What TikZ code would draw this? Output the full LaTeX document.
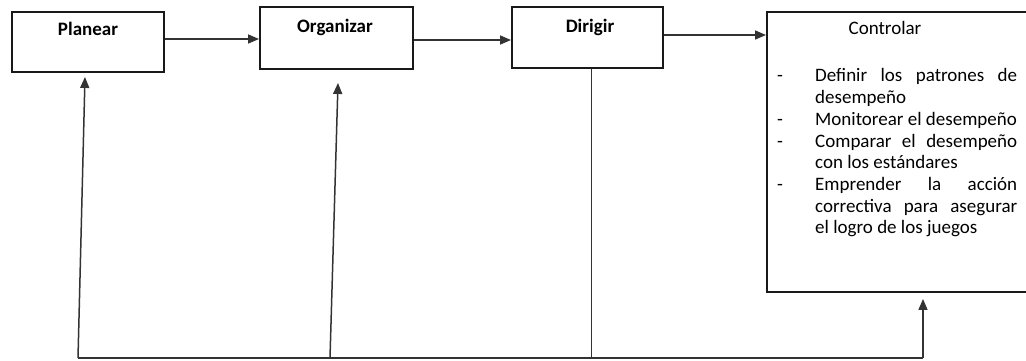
\documentclass[tikz,border=0pt]{standalone}
\usepackage{fontspec}
\setmainfont{Carlito}
\usetikzlibrary{arrows.meta}
\newcommand\dashitem{\par\hangindent=38pt\hangafter=1\noindent\makebox[38pt][l]{-}}
\begin{document}
\begin{tikzpicture}[x=1pt,y=-1pt,
  box/.style={draw=black!90, line width=1.9pt, rectangle, inner sep=0pt},
  ttl/.style={anchor=base, font=\fontsize{19}{22}\selectfont\bfseries, inner sep=0pt},
  conn/.style={draw=black!80, line width=1.5pt},
  arr/.style={conn, -{Triangle[length=11pt,width=9pt]}}]
\useasboundingbox (0,0) rectangle (1026,360);
% boxes
\node[box, minimum width=152pt, minimum height=60pt] (plan) at (88,42) {};
\node[box, minimum width=153pt, minimum height=62pt] (org) at (336.5,38) {};
\node[box, minimum width=151pt, minimum height=61pt] (dir) at (587.5,37.5) {};
\node[box, minimum width=273pt, minimum height=280pt] (ctl) at (903.5,152) {};
% titles
\node[ttl] (tplan) at (88,35) {Planear};
\node[ttl] (torg) at (335,32) {Organizar};
\node[ttl] (tdir) at (590,32) {Dirigir};
\node[ttl, font=\fontsize{19}{22}\selectfont] (tctl) at (885,34) {Controlar};
% list
\node[anchor=north west, inner sep=0pt, text width=240pt, align=justify,
      font=\fontsize{19}{21.7}\selectfont] (lst) at (777,60) {%
  \hyphenpenalty=10000\exhyphenpenalty=10000
  \dashitem Definir~los~patrones~de\linebreak desempeño
  \dashitem Monitorear~el~desempeño
  \dashitem Comparar~el~desempeño\linebreak con~los~estándares
  \dashitem Emprender~la~acción\linebreak correctiva~para~asegurar\linebreak el~logro~de~los~juegos\par};
% top arrows
\draw[arr] ([yshift=3pt]plan.east) coordinate (a1) -- (org.west |- a1);
\draw[arr] ([yshift=-2pt]org.east) coordinate (a2) -- (dir.west |- a2);
\draw[arr] ([yshift=2.5pt]dir.east) coordinate (a3) -- (ctl.west |- a3);
% feedback
\coordinate (b1) at (78,358);
\coordinate (b2) at (330,358);
\coordinate (b4) at (923,358);
\coordinate (b3) at ([xshift=4pt]dir.south |- b1);
\draw[conn] (b1) -- (b4);
\draw[arr] (b1) -- ([xshift=-3pt,yshift=-4pt]plan.south);
\draw[arr] (b2) -- ([xshift=1.5pt,yshift=-13pt]org.south);
\draw[conn] ([xshift=4pt]dir.south) -- (b3);
\path (b4 |- ctl.south) ++(0,6) coordinate (t4);
\draw[arr] (b4) -- (t4);
\end{tikzpicture}
\end{document}
